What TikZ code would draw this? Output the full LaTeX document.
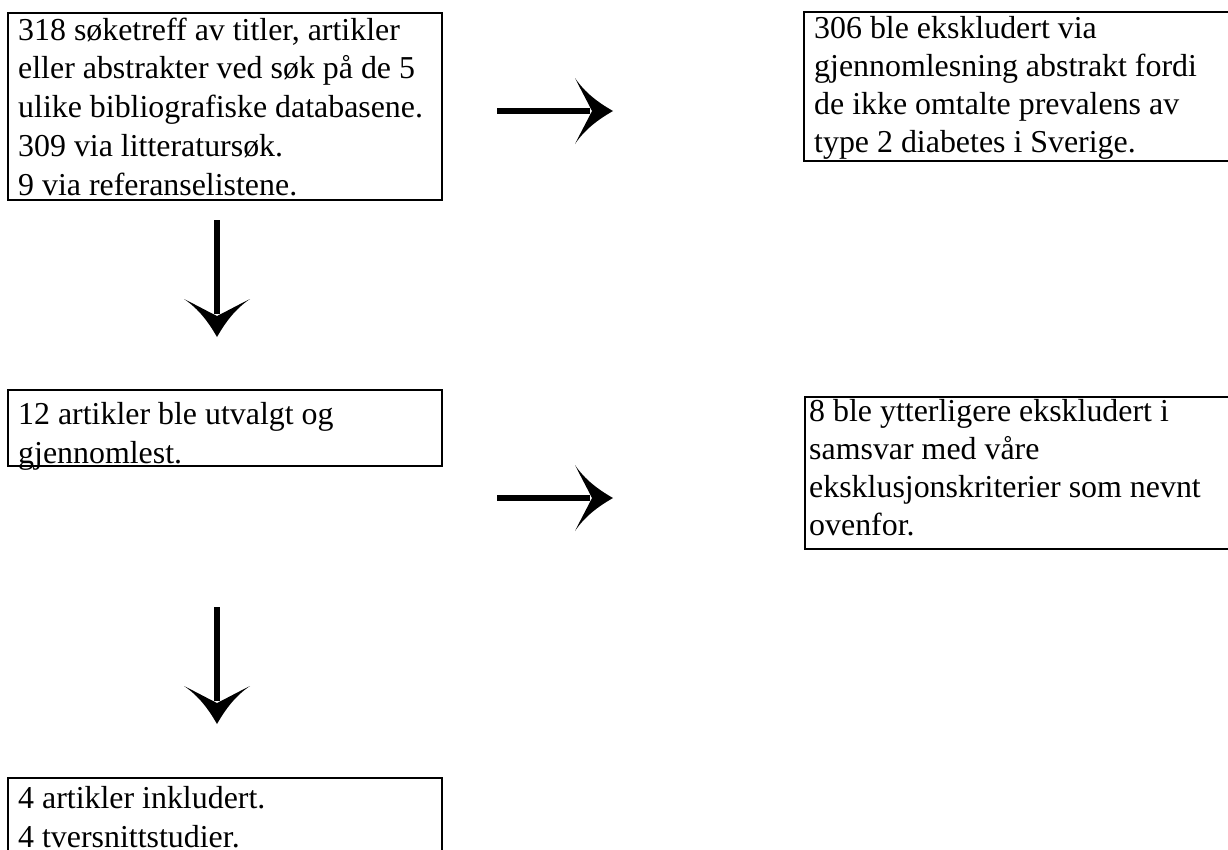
\documentclass[tikz,border=0pt]{standalone}
\usepackage{fontspec}
\setmainfont{Liberation Serif}
\usetikzlibrary{arrows.meta}
\pgfdeclarearrow{
  name = WHead,
  setup code = {
    \pgfarrowssettipend{0pt}
    \pgfarrowssetlineend{-23pt}
    \pgfarrowssetvisualbackend{-21pt}
    \pgfarrowssetbackend{-38pt}
    \pgfarrowshullpoint{0pt}{0pt}
    \pgfarrowsupperhullpoint{-38pt}{33pt}
  },
  drawing code = {
    \pgfpathmoveto{\pgfqpoint{0pt}{0pt}}
    \pgfpathcurveto{\pgfqpoint{-14pt}{8pt}}{\pgfqpoint{-28pt}{18pt}}{\pgfqpoint{-38pt}{33pt}}
    \pgfpathcurveto{\pgfqpoint{-32pt}{21pt}}{\pgfqpoint{-26pt}{10pt}}{\pgfqpoint{-21pt}{0pt}}
    \pgfpathcurveto{\pgfqpoint{-26pt}{-10pt}}{\pgfqpoint{-32pt}{-21pt}}{\pgfqpoint{-38pt}{-33pt}}
    \pgfpathcurveto{\pgfqpoint{-28pt}{-18pt}}{\pgfqpoint{-14pt}{-8pt}}{\pgfqpoint{0pt}{0pt}}
    \pgfpathclose
    \pgfusepathqfill
  },
}
\begin{document}
\begin{tikzpicture}[x=1pt,y=-1pt,
  box/.style={draw=black, line width=2.6pt, anchor=north west, inner sep=0pt, outer sep=0pt},
  txt/.style={anchor=base west, align=left, inner sep=0pt, font=\fontsize{31.9}{38.7}\selectfont},
  arr/.style={line width=6.4pt, -WHead}]
\useasboundingbox (0,0) rectangle (1228,849);
\fill[white] (0,0) rectangle (1228,849);
% boxes
\node[box, minimum width=434pt, minimum height=187pt] (b1) at (8,13) {};
\node[box, minimum width=440pt, minimum height=149pt] (b2) at (804,12) {};
\node[box, minimum width=434pt, minimum height=76pt] (b3) at (8,390) {};
\node[box, minimum width=440pt, minimum height=152pt] (b4) at (805,397) {};
\node[box, minimum width=434pt, minimum height=100pt] (b5) at (8,778) {};
% texts (anchored at the baseline of their last line)
\node[txt] (t1) at (18,195) {318 søketreff av titler, artikler\\eller abstrakter ved søk på de 5\\ulike bibliografiske databasene.\\309 via litteratursøk.\\9 via referanselistene.};
\node[txt, font=\fontsize{31.9}{37.8}\selectfont] (t2) at (814,152) {306 ble ekskludert via\\gjennomlesning abstrakt fordi\\de ikke omtalte prevalens av\\type 2 diabetes i Sverige.};
\node[txt] (t3) at (18,463) {12 artikler ble utvalgt og\\gjennomlest.};
\node[txt, font=\fontsize{31.9}{37.8}\selectfont] (t4) at (809,535) {8 ble ytterligere ekskludert i\\samsvar med våre\\eksklusjonskriterier som nevnt\\ovenfor.};
\node[txt] (t5) at (18,847) {4 artikler inkludert.\\4 tversnittstudier.};
% arrow end points
\coordinate (h1s) at (497,111);
\coordinate (h1e) at (613,111);
\coordinate (v1s) at (217,220);
\coordinate (v1e) at (217,337);
\coordinate (h2s) at (497,498);
\coordinate (h2e) at (613,498);
\coordinate (v2s) at (217,607);
\coordinate (v2e) at (217,724);
\draw[arr] (h1s) -- (h1e);
\draw[arr] (v1s) -- (v1e);
\draw[arr] (h2s) -- (h2e);
\draw[arr] (v2s) -- (v2e);
\end{tikzpicture}
\end{document}
